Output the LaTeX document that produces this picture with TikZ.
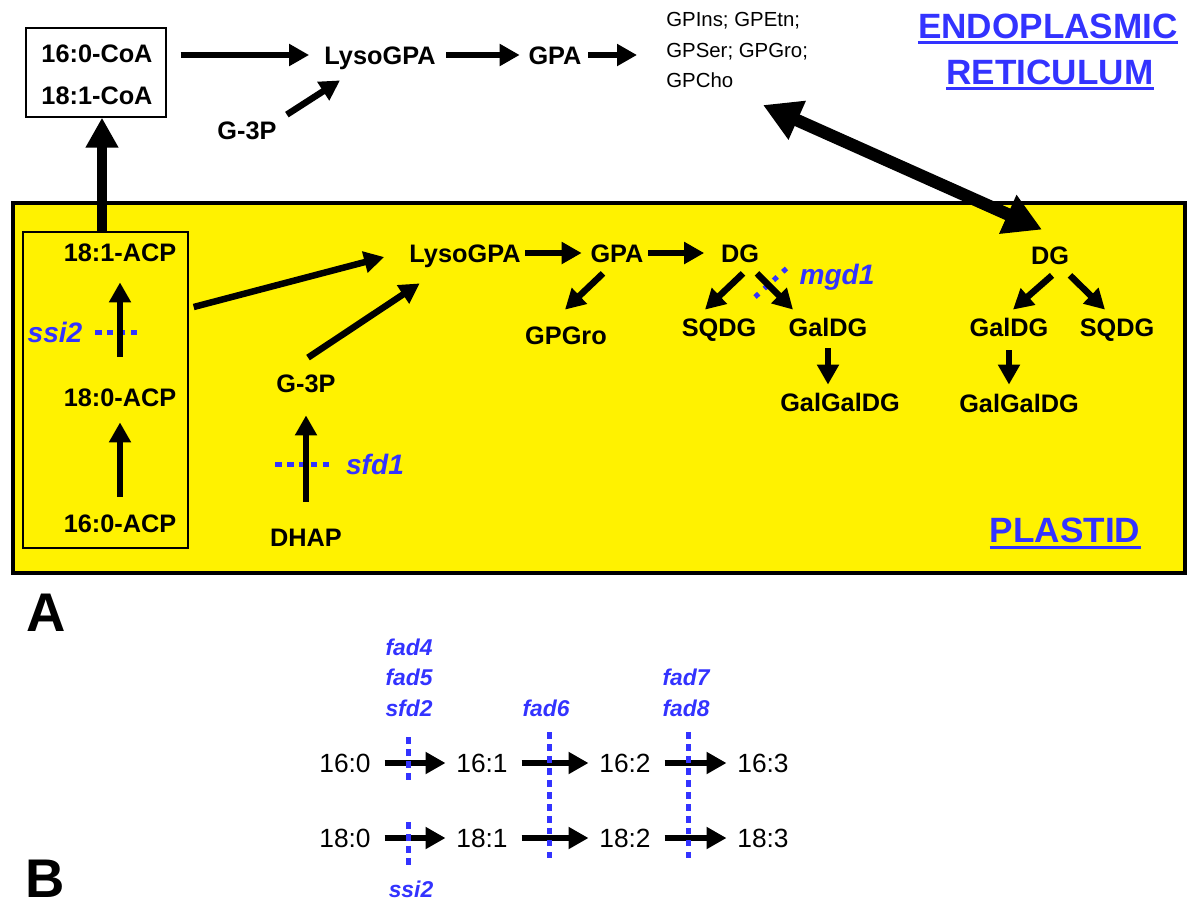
\documentclass[tikz,border=0pt]{standalone}
\usepackage{fontspec}
\setmainfont{Liberation Sans}
\usetikzlibrary{arrows.meta, calc}
\definecolor{mutblue}{RGB}{51,51,255}

\begin{document}
\begin{tikzpicture}[x=0.02cm, y=-0.02cm,
    lbl/.style={inner sep=0pt, text height=10.3pt, text depth=0pt, font=\fontsize{14.4}{17}\selectfont\bfseries},
    acid/.style={inner sep=0pt, text height=10.7pt, text depth=0pt, font=\fontsize{15}{18}\selectfont},
    gene/.style={inner sep=0pt, text=mutblue, text height=11.5pt, text depth=0pt, font=\fontsize{16}{19}\selectfont\bfseries\itshape},
    genesm/.style={inner sep=0pt, text=mutblue, text height=9.4pt, text depth=0pt, font=\fontsize{13}{16}\selectfont\bfseries\itshape},
    compart/.style={inner sep=0pt, text=mutblue, text height=14.3pt, text depth=0pt, font=\fontsize{20}{24}\selectfont\bfseries},
    panel/.style={inner sep=0pt, text height=22pt, text depth=0pt, font=\fontsize{31}{36}\selectfont\bfseries},
    flow/.style={line width=0.13cm, -{Triangle[length=0.4cm, width=0.42cm]}},
    export/.style={line width=0.2cm, -{Triangle[length=0.6cm, width=0.62cm]}},
    shuttle/.style={line width=0.25cm, {Triangle[length=0.75cm, width=0.8cm]}-{Triangle[length=0.75cm, width=0.8cm]}},
    block/.style={line width=0.1cm, mutblue, dash pattern=on 0.13cm off 0.11cm},
]
    \useasboundingbox (0,0) rectangle (1193,907);

    % --- Plastid compartment ---
    \draw[line width=0.09cm, fill=yellow] (13,203) rectangle (1185,573);
    \node[draw, line width=0.8pt, minimum width=3.3cm, minimum height=6.32cm] (acpbox) at (105.5,390) {};

    % --- Endoplasmic reticulum ---
    \node[draw, line width=0.8pt, minimum width=2.8cm, minimum height=1.78cm] (coa) at (96,72.5) {};
    \node[lbl] (coa16) at (97,53) {16:0-CoA};
    \node[lbl] (coa18) at (97,95) {18:1-CoA};
    \node[lbl] (lysoer) at (380,55) {LysoGPA};
    \node[lbl] (gpaer) at (555,55) {GPA};
    \node[lbl] (g3per) at (247,130) {G-3P};
    \node[inner sep=0pt, anchor=west, align=left, font=\fontsize{11.6}{17.6}\selectfont] (gpx) at (666,50)
        {GPIns; GPEtn;\\GPSer; GPGro;\\GPCho};
    \node[compart] (er1) at (1048,26) {ENDOPLASMIC};
    \node[compart] (er2) at (1050,72) {RETICULUM};
    \draw[mutblue, line width=0.06cm] ($(er1.base west)+(0,4)$) -- ($(er1.base east)+(0,4)$);
    \draw[mutblue, line width=0.06cm] ($(er2.base west)+(0,4)$) -- ($(er2.base east)+(0,4)$);

    \draw[flow, shorten <=0.28cm, shorten >=0.3cm] (coa.east |- lysoer.west) -- (lysoer.west);
    \draw[flow, shorten <=0.21cm, shorten >=0.17cm] (lysoer.east) -- (gpaer.west);
    \draw[flow, shorten <=0.13cm, shorten >=0.58cm] (gpaer.east) -- (gpaer.east -| gpx.west);
    \draw[flow] ($(g3per.north east)+(10,-6)$) -- ($(lysoer.south)+(-40,16)$);

    % --- Plastid labels ---
    \node[lbl] (acp181) at (120,252) {18:1-ACP};
    \node[lbl] (acp180) at (120,397) {18:0-ACP};
    \node[lbl] (acp160) at (120,523) {16:0-ACP};
    \node[lbl] (lysopl) at (465,253) {LysoGPA};
    \node[lbl] (gpapl) at (617,253) {GPA};
    \node[lbl] (dgpl) at (740,253) {DG};
    \node[lbl] (gpgro) at (566,335) {GPGro};
    \node[lbl] (sqdg1) at (719,327) {SQDG};
    \node[lbl] (galdg1) at (828,327) {GalDG};
    \node[lbl] (galgal1) at (840,402) {GalGalDG};
    \node[lbl] (g3ppl) at (306,383) {G-3P};
    \node[lbl] (dhap) at (306,537) {DHAP};
    \node[lbl] (dgpl2) at (1050,255) {DG};
    \node[lbl] (galdg2) at (1009,327) {GalDG};
    \node[lbl] (sqdg2) at (1117,327) {SQDG};
    \node[lbl] (galgal2) at (1019,403) {GalGalDG};
    \node[compart] (plastid) at (1065,530) {PLASTID};
    \draw[mutblue, line width=0.06cm] ($(plastid.base west)+(0,5)$) -- ($(plastid.base east)+(0,5)$);

    % mutant blocks (under the arrows)
    \draw[block] (95,332) -- (140,332);
    \node[gene] (ssi2a) at (55,332) {ssi2};
    \draw[block] (275,464) -- (332,464);
    \node[gene] (sfd1) at (375,464) {sfd1};
    \draw[block, dash pattern=on 0.1cm off 0.15cm] (755,297) -- (787,268);
    \node[gene] (mgd1) at (837,274) {mgd1};

    % --- Plastid pathway ---
    \draw[flow, shorten <=0.34cm, shorten >=0.32cm] (acp160) -- (acp180);
    \draw[flow, shorten <=0.62cm, shorten >=0.42cm] (acp180) -- (acp181);
    \draw[flow] ($(acpbox.east)+(5,-83)$) -- ($(lysopl.west)+(-25,4)$);
    \draw[flow] ($(g3ppl.north)+(2,-16)$) -- ($(lysopl.south west)+(10.5,21)$);
    \draw[flow, shorten <=0.52cm, shorten >=0.46cm] (dhap) -- (g3ppl);
    \draw[flow, shorten <=0.09cm, shorten >=0.17cm] (lysopl) -- (gpapl);
    \draw[flow, shorten <=0.09cm, shorten >=0.33cm] (gpapl) -- (dgpl);
    \draw[flow] ($(gpapl.south)+(-14,11)$) -- ($(gpgro.north)+(-1,-16)$);
    \draw[flow] ($(dgpl.south)+(3,11)$) -- ($(sqdg1.north)+(-14,-8)$);
    \draw[flow] ($(dgpl.south)+(17,11)$) -- ($(galdg1.north)+(-35,-8)$);
    \draw[flow, shorten <=0.24cm, shorten >=0.16cm] (galdg1.south) -- (galdg1.south |- galgal1.north);
    \draw[flow] ($(dgpl2.south)+(2,11)$) -- ($(galdg2.north)+(4,-8)$);
    \draw[flow] ($(dgpl2.south)+(20,11)$) -- ($(sqdg2.north)+(-12,-8)$);
    \draw[flow, shorten <=0.28cm, shorten >=0.18cm] (galdg2.south) -- (galdg2.south |- galgal2.north);

    % --- Exchange between compartments ---
    \draw[export] ([xshift=0.12cm]coa.south |- acpbox.north) -- ([xshift=0.12cm]coa.south);
    \draw[shuttle] ($(gpx.west)+(97,55)$) -- ($(dgpl2.north)+(-8,-16)$);

    % --- Panel B: desaturation ---
    \foreach \n/\x in {0/345, 1/482, 2/625, 3/763} {
        \node[acid] (r16\n) at (\x,763) {16:\n};
        \node[acid] (r18\n) at (\x,838) {18:\n};
    }
    \foreach \a/\b in {0/1, 1/2, 2/3} {
        \draw[flow, shorten <=0.27cm, shorten >=0.21cm] (r16\a) -- (r16\b);
        \draw[flow, shorten <=0.27cm, shorten >=0.21cm] (r18\a) -- (r18\b);
    }
    \draw[block] (408,737) -- (408,782);
    \draw[block] (408,822) -- (408,868);
    \draw[block] (549,732) -- (549,860);
    \draw[block] (688,732) -- (688,860);

    \node[genesm] (fad4) at (409,647) {fad4};
    \node[genesm] (fad5) at (409,677) {fad5};
    \node[genesm] (sfd2) at (409,708) {sfd2};
    \node[genesm] (fad6) at (546,708) {fad6};
    \node[genesm] (fad7) at (686,677) {fad7};
    \node[genesm] (fad8) at (686,708) {fad8};
    \node[genesm] (ssi2b) at (411,889) {ssi2};

    % --- Panel letters ---
    \node[panel] (panela) at (46,612) {A};
    \node[panel] (panelb) at (45,878) {B};

\end{tikzpicture}
\end{document}
